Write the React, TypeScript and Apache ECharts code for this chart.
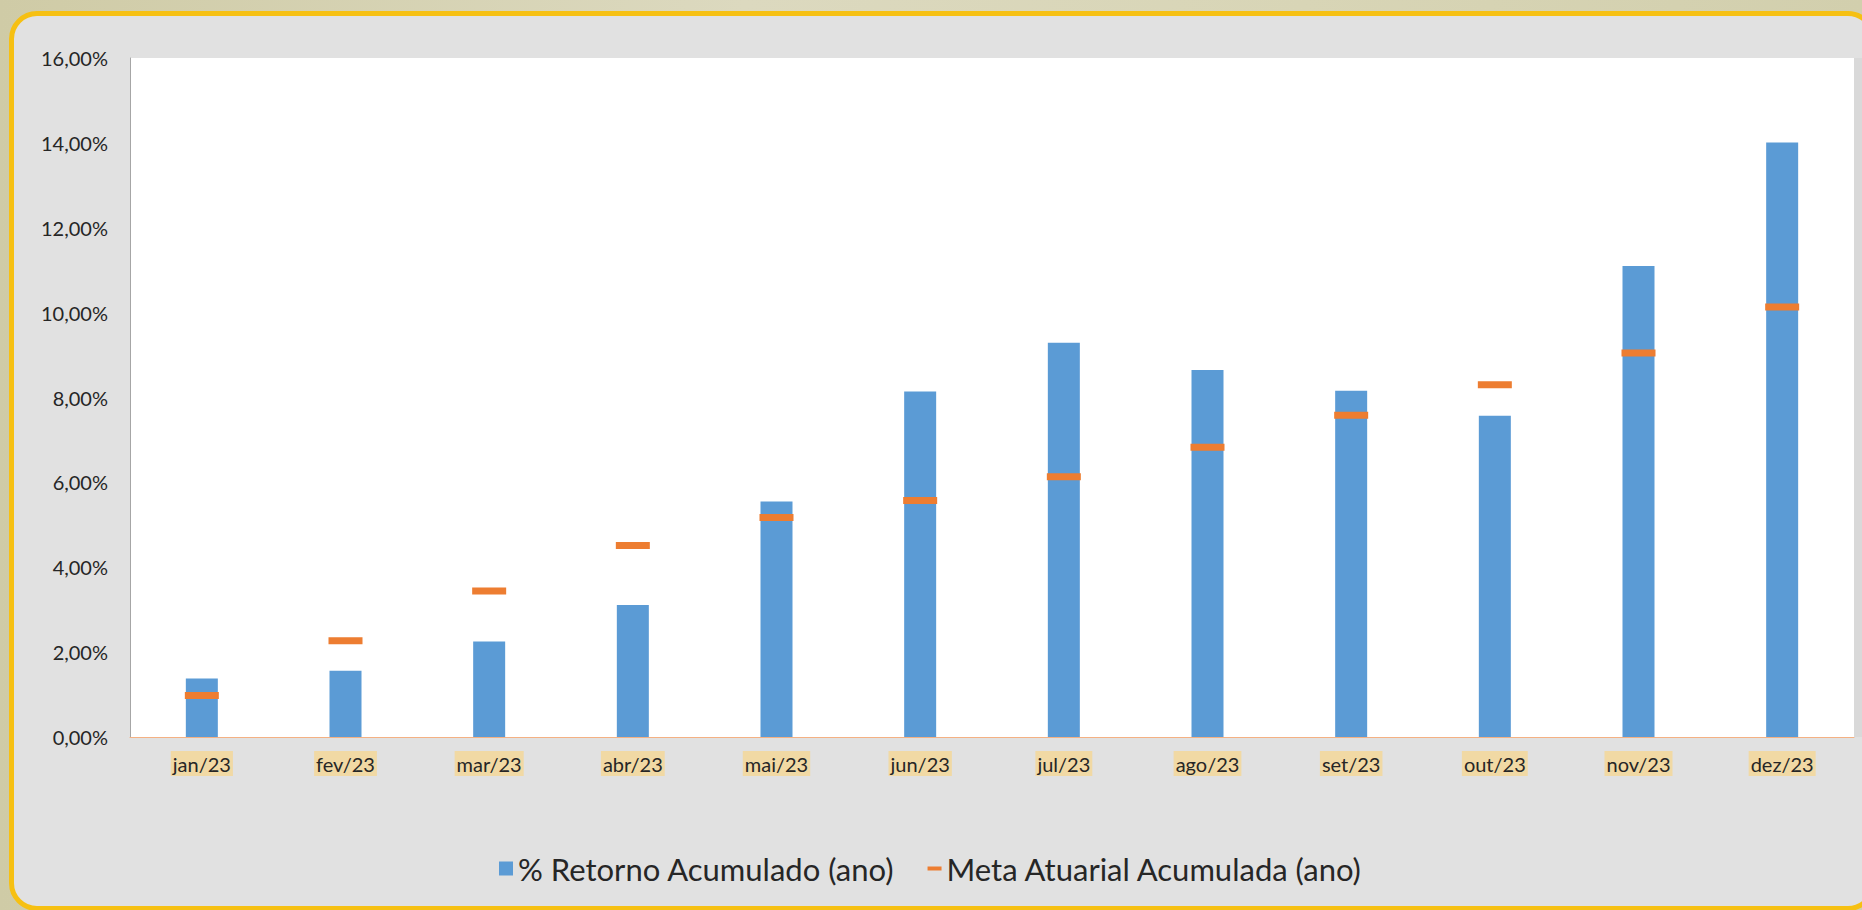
import React, { useEffect, useRef } from "react";
import * as echarts from "echarts";

const categories = ["jan/23", "fev/23", "mar/23", "abr/23", "mai/23", "jun/23", "jul/23", "ago/23", "set/23", "out/23", "nov/23", "dez/23"];
const retornoAcumulado = [1.38, 1.56, 2.25, 3.11, 5.55, 8.14, 9.29, 8.65, 8.16, 7.57, 11.1, 14.01];
const metaAtuarial = [0.98, 2.27, 3.44, 4.51, 5.17, 5.57, 6.13, 6.83, 7.58, 8.3, 9.05, 10.13];
const seriesNames = ["% Retorno Acumulado (ano)", "Meta Atuarial Acumulada (ano)"];

const FONT = "Lato";

export default function App() {
  const ref = useRef<HTMLDivElement>(null);

  useEffect(() => {
    if (!ref.current) return;
    const chart = echarts.init(ref.current, null, { renderer: "svg" });
    chart.setOption({
      animation: false,
      backgroundColor: "transparent",
      textStyle: { fontFamily: FONT },
      grid: {
        left: 130,
        top: 58,
        right: 8,
        bottom: 173,
        show: true,
        backgroundColor: "#ffffff",
        borderWidth: 0,
      },
      xAxis: {
        type: "category",
        data: categories,
        axisLine: { lineStyle: { color: "#f4b183", width: 1 } },
        axisTick: { show: false },
        axisLabel: {
          margin: 14,
          fontSize: 20,
          fontFamily: FONT,
          color: "#262626",
          backgroundColor: "#f1d9a4",
          padding: [3, 2, 2, 2],
        },
      },
      yAxis: {
        type: "value",
        min: 0,
        max: 16,
        interval: 2,
        axisLine: { show: true, lineStyle: { color: "#a6a6a6" } },
        axisTick: { show: false },
        splitLine: { show: false },
        axisLabel: {
          margin: 22,
          fontSize: 20,
          fontFamily: FONT,
          color: "#262626",
          formatter: (v: number) => v.toFixed(2).replace(".", ",") + "%",
        },
      },
      legend: {
        left: "center",
        top: 848,
        itemGap: 33,
        itemWidth: 14,
        itemHeight: 14,
        textStyle: { fontSize: 31, fontFamily: FONT, color: "#262626" },
        data: [
          { name: seriesNames[0], icon: "rect" },
          { name: seriesNames[1], icon: "path://M0,0H14V4H0Z" },
        ],
      },
      series: [
        {
          type: "bar",
          name: seriesNames[0],
          data: retornoAcumulado,
          barWidth: 32,
          itemStyle: { color: "#5b9bd5" },
        },
        {
          type: "scatter",
          name: seriesNames[1],
          data: metaAtuarial,
          symbol: "rect",
          symbolSize: [34, 7],
          itemStyle: { color: "#ed7d31", opacity: 1 },
          z: 3,
        },
      ],
    });
    return () => chart.dispose();
  }, []);

  return (
    <div
      style={{
        position: "fixed",
        left: 0,
        top: 0,
        width: 1862,
        height: 910,
        overflow: "hidden",
        background: "linear-gradient(90deg, #cfcba6 0%, #dcd9bf 40%, #d8d5b6 70%, #d2cfad 100%)",
      }}
    >
      <div
        style={{
          position: "absolute",
          left: 9,
          top: 11,
          width: 1876 - 9 - 10,
          height: 911 - 11 - 10,
          background: "#e1e1e1",
          border: "5px solid #f6c012",
          borderRadius: 28,
        }}
      />
      <div
        style={{
          position: "absolute",
          left: 1854,
          top: 58,
          width: 8,
          height: 679,
          background: "#d9d9d9",
        }}
      />
      <div ref={ref} style={{ position: "absolute", left: 0, top: 0, width: 1862, height: 910 }} />
    </div>
  );
}
